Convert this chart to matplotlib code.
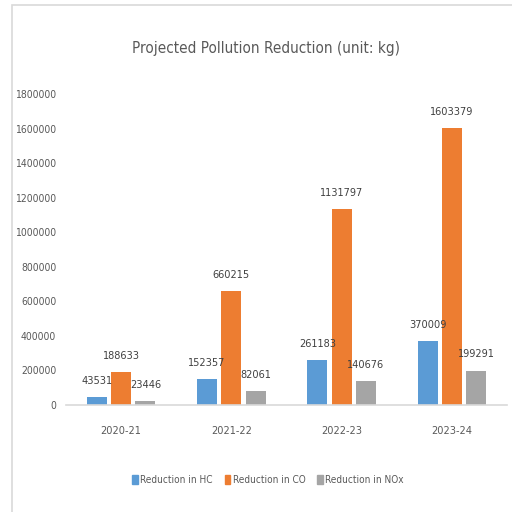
import matplotlib
matplotlib.use("Agg")
import matplotlib.pyplot as plt
import numpy as np
from matplotlib.patches import Rectangle, Patch

years = ["2020-21", "2021-22", "2022-23", "2023-24"]
hc = [43531, 152357, 261183, 370009]
co = [188633, 660215, 1131797, 1603379]
nox = [23446, 82061, 140676, 199291]
series_names = ["Reduction in HC", "Reduction in CO", "Reduction in NOx"]
colors = ["#5B9BD5", "#ED7D31", "#A5A5A5"]
yticks = list(range(0, 1800001, 200000))

plt.rcParams['font.family'] = ['DejaVu Sans']
plt.rcParams['font.stretch'] = 'condensed'
txt = "#595959"

fig = plt.figure(figsize=(5.12, 5.12), dpi=100)
fig.patches.append(Rectangle((12/512, -0.1), 1.2, 1 - 5/512 + 0.1, transform=fig.transFigure,
                             fill=False, edgecolor="#D9D9D9", lw=1.2))
ax = fig.add_axes([66/512, 1 - 405/512, 441/512, (405 - 94)/512])

x = np.arange(len(years))
w = 0.18
offs = [-0.22, 0, 0.22]
for vals, off, c, name in zip([hc, co, nox], offs, colors, series_names):
    bars = ax.bar(x + off, vals, width=w, color=c, label=name)
    for b, v in zip(bars, vals):
        ax.annotate(str(v), (b.get_x() + b.get_width()/2, v), xytext=(0, 8),
                    textcoords="offset points", ha="center", va="bottom",
                    fontsize=7.8, color="#404040", clip_on=False)

ax.set_xlim(-0.5, 3.5)
ax.set_ylim(0, 1800000)
ax.set_yticks(yticks)
ax.set_yticklabels([str(t) for t in yticks])
ax.set_xticks(x)
ax.set_xticklabels(years)
ax.tick_params(axis="y", length=0, pad=7, labelsize=7.5, labelcolor=txt)
ax.tick_params(axis="x", length=0, pad=15, labelsize=7.8, labelcolor=txt)
for s in ["top", "right", "left"]:
    ax.spines[s].set_visible(False)
ax.spines["bottom"].set_color("#D9D9D9")
ax.spines["bottom"].set_linewidth(1.2)

fig.text(266/512, 1 - 48/512, "Projected Pollution Reduction (unit: kg)", ha="center", va="center",
         fontsize=11, color=txt)

handles = [Patch(color=c) for c in colors]
fig.legend(handles, series_names, loc="center", bbox_to_anchor=(268/512, 1 - 480/512), ncol=3,
           frameon=False, handlelength=0.55, handleheight=0.9, handletextpad=0.25, columnspacing=1.2,
           fontsize=7.2, labelcolor=txt)

fig.savefig("out.png", dpi=100)
